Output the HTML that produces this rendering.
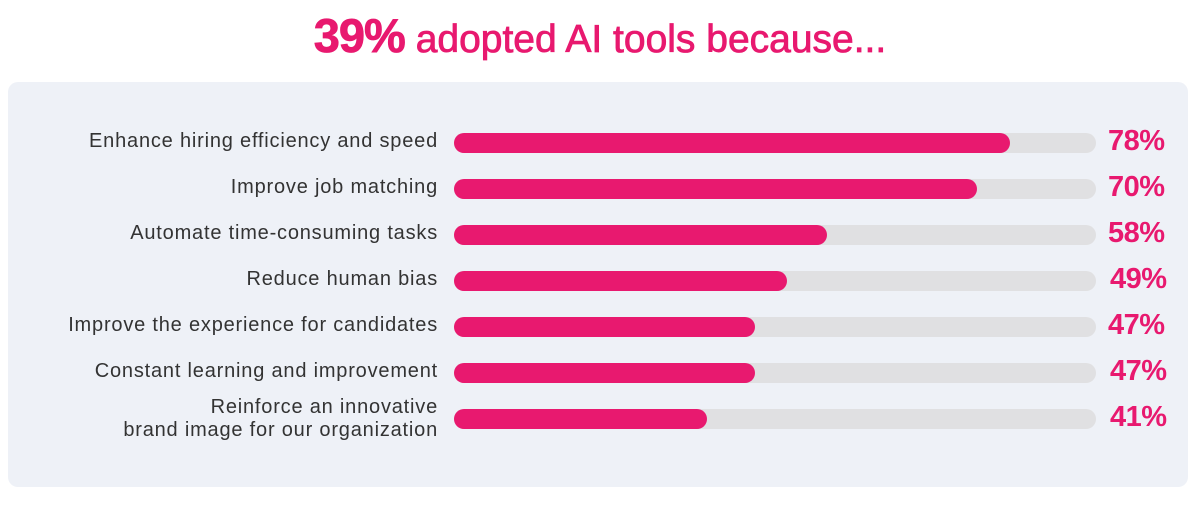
<!DOCTYPE html>
<html><head><style>
body{margin:0;width:1200px;height:516px;background:#fff;font-family:"Liberation Sans",sans-serif;position:relative;overflow:hidden}
.title{position:absolute;top:8px;left:0;width:1200px;text-align:center;color:#e8196f;font-size:39px;letter-spacing:0px;-webkit-text-stroke:0.8px #e8196f}
.title b{font-size:47px;letter-spacing:-1px}
.panel{position:absolute;left:8px;top:82px;width:1180px;height:405px;background:#eef1f7;border-radius:10px}
.lab{position:absolute;right:762px;width:440px;text-align:right;color:#333;font-size:20px;line-height:23px;letter-spacing:0.8px}
.track{position:absolute;left:454px;width:642px;height:20px;border-radius:10px;background:#e0e0e2}
.fill{position:absolute;left:0;top:0;height:20px;border-radius:10px;background:#e8196f}
.pct{position:absolute;left:1108px;color:#e8196f;font-size:29px;font-weight:bold;letter-spacing:-0.5px}
</style></head><body>
<div class="title"><b>39%</b> adopted AI tools because...</div>
<div class="panel"></div>

<div class="lab" style="top:130px">Enhance hiring efficiency and speed</div>
<div class="track" style="top:133px"><div class="fill" style="width:556px"></div></div>
<div class="pct" style="top:125px">78%</div>

<div class="lab" style="top:176px">Improve job matching</div>
<div class="track" style="top:179px"><div class="fill" style="width:523px"></div></div>
<div class="pct" style="top:171px">70%</div>

<div class="lab" style="top:222px">Automate time-consuming tasks</div>
<div class="track" style="top:225px"><div class="fill" style="width:373px"></div></div>
<div class="pct" style="top:217px">58%</div>

<div class="lab" style="top:268px">Reduce human bias</div>
<div class="track" style="top:271px"><div class="fill" style="width:333px"></div></div>
<div class="pct" style="top:263px;left:1110px">49%</div>

<div class="lab" style="top:314px">Improve the experience for candidates</div>
<div class="track" style="top:317px"><div class="fill" style="width:301px"></div></div>
<div class="pct" style="top:309px">47%</div>

<div class="lab" style="top:360px">Constant learning and improvement</div>
<div class="track" style="top:363px"><div class="fill" style="width:301px"></div></div>
<div class="pct" style="top:355px;left:1110px">47%</div>

<div class="lab" style="top:396px">Reinforce an innovative<br>brand image for our organization</div>
<div class="track" style="top:409px"><div class="fill" style="width:253px"></div></div>
<div class="pct" style="top:401px;left:1110px">41%</div>
</body></html>
